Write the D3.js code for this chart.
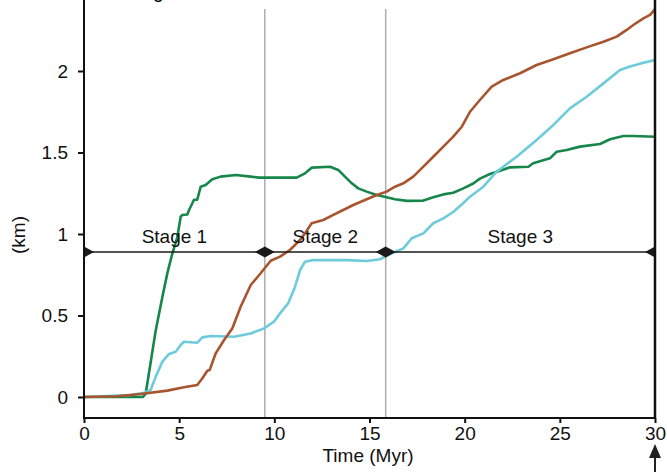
<!DOCTYPE html>
<html>
<head>
<meta charset="utf-8">
<script src="https://cdn.jsdelivr.net/npm/d3@7"></script>
<style>
  body { margin: 0; background: #fff; }
  svg { display: block; }
  text { font-family: "Liberation Sans", Arial, Helvetica, sans-serif; }
</style>
</head>
<body>
<svg id="chart"></svg>
<script>

// Values: [time (Myr), value (km)]

const greenSeries = [
  [0, 0], [2.5, 0], [3.1, 0], [3.24, 0.02], [3.5, 0.21], [3.77, 0.41], [4.12, 0.615],
  [4.38, 0.76], [4.64, 0.88], [4.9, 0.98], [5.08, 1.106], [5.17, 1.117], [5.43, 1.12],
  [5.52, 1.147], [5.78, 1.21], [5.95, 1.21], [6.13, 1.29], [6.39, 1.3], [6.74, 1.336],
  [7.18, 1.352], [7.97, 1.362], [8.76, 1.352], [9.19, 1.346], [11.17, 1.346],
  [11.61, 1.372], [11.96, 1.407], [12.93, 1.413], [13.36, 1.393], [13.71, 1.352],
  [14.07, 1.311], [14.41, 1.28], [14.85, 1.26], [15.38, 1.239], [15.9, 1.225],
  [16.34, 1.213], [16.96, 1.203], [17.83, 1.205], [18.35, 1.225], [18.88, 1.243],
  [19.4, 1.253], [19.93, 1.28], [20.45, 1.31], [20.8, 1.34], [21.33, 1.368],
  [21.86, 1.388], [22.38, 1.409], [23.35, 1.413], [23.6, 1.434], [24.48, 1.464],
  [24.84, 1.505], [25.36, 1.515], [26.06, 1.536], [27.11, 1.552], [27.64, 1.581],
  [28.34, 1.601], [28.86, 1.601], [30, 1.597]
];

const brownSeries = [
  [0, 0], [1.75, 0.005], [2.98, 0.018], [4.38, 0.039], [5.25, 0.06], [5.95, 0.074],
  [6.22, 0.115], [6.48, 0.161], [6.6, 0.165], [6.92, 0.268], [7.36, 0.35], [7.79, 0.42],
  [8.23, 0.554], [8.76, 0.687], [9.28, 0.759], [9.81, 0.836], [10.3, 0.861],
  [10.82, 0.902], [11.35, 0.963], [11.61, 1.004], [11.96, 1.066], [12.57, 1.086],
  [13.1, 1.117], [13.62, 1.147], [14.15, 1.178], [14.76, 1.209], [15.38, 1.239],
  [15.9, 1.26], [16.34, 1.29], [16.78, 1.311], [17.3, 1.352], [17.83, 1.413],
  [18.35, 1.474], [18.88, 1.536], [19.4, 1.597], [19.85, 1.658], [20.28, 1.75],
  [20.8, 1.822], [21.42, 1.904], [22.03, 1.945], [22.91, 1.986], [23.78, 2.037],
  [24.66, 2.072], [25.53, 2.109], [26.41, 2.145], [27.29, 2.18], [27.99, 2.211],
  [28.51, 2.252], [28.86, 2.282], [29.39, 2.323], [29.74, 2.344], [30, 2.379]
];

const cyanSeries = [
  [0, 0], [2.45, 0.012], [3.15, 0.026], [3.5, 0.043], [3.77, 0.125], [4.12, 0.217],
  [4.47, 0.264], [4.82, 0.278], [5.08, 0.319], [5.25, 0.339], [5.95, 0.333],
  [6.22, 0.366], [6.66, 0.374], [7.88, 0.37], [8.76, 0.39], [9.46, 0.42], [9.98, 0.462],
  [10.3, 0.513], [10.73, 0.575], [11.09, 0.677], [11.35, 0.779], [11.61, 0.83],
  [12.05, 0.84], [13.8, 0.84], [14.85, 0.834], [15.55, 0.845], [16.08, 0.877],
  [16.78, 0.912], [17.22, 0.974], [17.83, 1.004], [18.35, 1.066], [18.88, 1.096],
  [19.4, 1.135], [19.93, 1.19], [20.28, 1.229], [20.98, 1.29], [21.68, 1.382],
  [22.73, 1.474], [23.78, 1.577], [24.66, 1.669], [25.53, 1.771], [26.41, 1.842],
  [27.29, 1.924], [28.16, 2.006], [28.69, 2.027], [29.39, 2.051], [30, 2.067]
];

// Stage boundaries (Myr) and the height of the stage arrow (km)
const stageBounds = [0, 9.5, 15.85, 30];
const stageNames = ["Stage 1", "Stage 2", "Stage 3"];
const stageLevel = 0.89;

const xTicks = [0, 5, 10, 15, 20, 25, 30];
const yTicks = [0, 0.5, 1, 1.5, 2];

const width = 667;
const height = 472;
const left = 84;
const right = 655;
const axisY = 418;

const svg = d3.select("#chart")
  .attr("width", width)
  .attr("height", height);

const x = d3.scaleLinear().domain([0, 30]).range([left, right]);
const y = d3.scaleLinear().domain([0, 2]).range([397, 71]);

svg.append("defs").append("clipPath")
  .attr("id", "plotClip")
  .append("rect")
  .attr("x", left).attr("y", 0)
  .attr("width", right - left).attr("height", axisY);

// Title cut off at the top edge
svg.append("text")
  .attr("x", 133)
  .attr("y", -2)
  .attr("font-size", 19)
  .text("Migration");

// grey stage boundaries
svg.selectAll(".bound")
  .data(stageBounds.slice(1, 3))
  .enter()
  .append("line")
  .attr("class", "bound")
  .attr("x1", d => x(d)).attr("x2", d => x(d))
  .attr("y1", 9).attr("y2", axisY)
  .attr("stroke", "#adadad")
  .attr("stroke-width", 1.5);

const line = d3.line()
  .x(d => x(d[0]))
  .y(d => y(d[1]));

const series = [
  {data: greenSeries, color: "#17864a"},
  {data: cyanSeries, color: "#6ecbdc"},
  {data: brownSeries, color: "#a8542e"}
];

svg.append("g")
  .attr("clip-path", "url(#plotClip)")
  .selectAll("path")
  .data(series)
  .enter()
  .append("path")
  .attr("d", d => line(d.data))
  .attr("fill", "none")
  .attr("stroke", d => d.color)
  .attr("stroke-width", 2.6)
  .attr("stroke-linejoin", "round");

// Stage arrow with diamond heads
const stageG = svg.append("g").attr("clip-path", "url(#plotClip)");

stageG.append("line")
  .attr("x1", x(0)).attr("x2", x(30))
  .attr("y1", y(stageLevel)).attr("y2", y(stageLevel))
  .attr("stroke", "#1a1a1a")
  .attr("stroke-width", 1.5);

stageG.selectAll(".diamond")
  .data(stageBounds)
  .enter()
  .append("path")
  .attr("class", "diamond")
  .attr("transform", d => "translate(" + x(d) + "," + y(stageLevel) + ")")
  .attr("d", "M-10,0L0,-5.5L10,0L0,5.5Z")
  .attr("fill", "#1a1a1a");

svg.selectAll(".stage")
  .data(stageNames)
  .enter()
  .append("text")
  .attr("class", "stage")
  .attr("x", (d, i) => (x(stageBounds[i]) + x(stageBounds[i + 1])) / 2)
  .attr("y", 243)
  .attr("text-anchor", "middle")
  .attr("font-size", 19)
  .attr("fill", "#111")
  .text(d => d);

// Axes
const xAxis = svg.append("g")
  .attr("transform", "translate(0," + axisY + ")")
  .call(d3.axisBottom(x).tickValues(xTicks).tickSize(5).tickPadding(4).tickFormat(d3.format("d")));

const yAxis = svg.append("g")
  .attr("transform", "translate(" + left + ",0)")
  .call(d3.axisLeft(y).tickValues(yTicks).tickSize(6).tickPadding(10).tickFormat(d => String(d)));

[xAxis, yAxis].forEach(g => {
  g.select(".domain").remove();
  g.selectAll("line").attr("stroke", "#111").attr("stroke-width", 2);
  g.selectAll("text").attr("font-size", 19).attr("fill", "#111")
    .attr("font-family", "\"Liberation Sans\", Arial, sans-serif");
});

svg.append("line")
  .attr("x1", left).attr("x2", left)
  .attr("y1", 0).attr("y2", axisY + 1)
  .attr("stroke", "#111").attr("stroke-width", 2);

svg.append("line")
  .attr("x1", left - 1).attr("x2", right + 1)
  .attr("y1", axisY).attr("y2", axisY)
  .attr("stroke", "#111").attr("stroke-width", 2);

svg.append("line")
  .attr("x1", right).attr("x2", right)
  .attr("y1", 0).attr("y2", axisY)
  .attr("stroke", "#111").attr("stroke-width", 2.5);

// Arrow under the 30 Myr mark
svg.append("line")
  .attr("x1", right).attr("x2", right)
  .attr("y1", 455).attr("y2", height)
  .attr("stroke", "#222").attr("stroke-width", 2);

svg.append("path")
  .attr("transform", "translate(" + right + ",444)")
  .attr("d", "M0,0L6,14L-6,14Z")
  .attr("fill", "#222");

// Axis titles
svg.append("text")
  .attr("x", 368)
  .attr("y", 462)
  .attr("text-anchor", "middle")
  .attr("font-size", 19)
  .attr("fill", "#111")
  .text("Time (Myr)");

svg.append("text")
  .attr("transform", "translate(25,235) rotate(-90)")
  .attr("text-anchor", "middle")
  .attr("font-size", 19)
  .attr("fill", "#111")
  .text("(km)");

</script>
</body>
</html>
